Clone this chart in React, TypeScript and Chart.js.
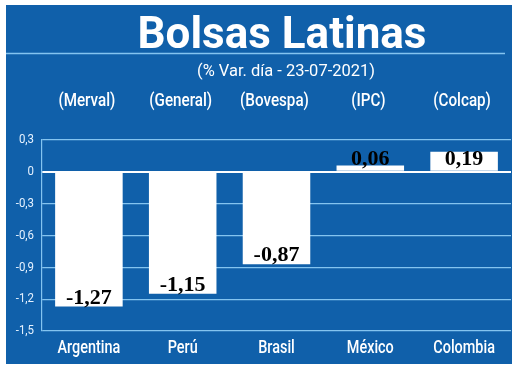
import React, { useEffect, useRef } from "react";
import { Chart, registerables } from "chart.js";

Chart.register(...registerables);

const countries = ["Argentina", "Perú", "Brasil", "México", "Colombia"];
const indices = ["(Merval)", "(General)", "(Bovespa)", "(IPC)", "(Colcap)"];
const values = [-1.27, -1.15, -0.87, 0.06, 0.19];
const yMin = -1.5;
const yMax = 0.3;
const yStep = 0.3;
const titleText = "Bolsas Latinas";
const subtitleText = "(% Var. día - 23-07-2021)";

const BLUE = "#1060aa";
const GRID = "#84c4f0";
const SANS = 'Roboto, "Open Sans", sans-serif';

const fmt = (v: number) => {
  const r = Math.round(v * 100) / 100;
  if (Math.abs(r) < 1e-9) return "0";
  return String(r).replace(".", ",");
};

function narrowText(
  ctx: CanvasRenderingContext2D,
  text: string,
  x: number,
  y: number,
  sx: number
) {
  ctx.save();
  ctx.translate(x, y);
  ctx.scale(sx, 1);
  ctx.fillText(text, 0, 0);
  ctx.restore();
}

const panelPlugin = {
  id: "panel",
  beforeDraw(chart: any) {
    const ctx = chart.ctx;
    ctx.save();
    ctx.fillStyle = "#ffffff";
    ctx.fillRect(0, 0, chart.width, chart.height);
    ctx.fillStyle = BLUE;
    ctx.fillRect(6, 5, 506, 359);
    ctx.strokeStyle = GRID;
    ctx.lineWidth = 1.5;
    ctx.beginPath();
    ctx.moveTo(6, 53.5);
    ctx.lineTo(505, 53.5);
    ctx.stroke();
    ctx.fillStyle = "#ffffff";
    ctx.textAlign = "center";
    ctx.textBaseline = "alphabetic";
    ctx.font = "bold 44px " + SANS;
    ctx.fillText(titleText, 282, 48);
    ctx.font = "17px " + SANS;
    narrowText(ctx, subtitleText, 286, 76, 0.97);
    ctx.restore();
  },
};

const axisLabelPlugin = {
  id: "axisLabels",
  afterDraw(chart: any) {
    const ctx = chart.ctx;
    const x = chart.scales.x;
    const x2 = chart.scales.x2;
    const y = chart.scales.y;
    ctx.save();
    ctx.fillStyle = "#ffffff";
    ctx.textAlign = "center";
    ctx.textBaseline = "middle";
    ctx.font = "500 19px " + SANS;
    countries.forEach((c, i) => {
      narrowText(ctx, c, x.getPixelForValue(i), x.top + 17, 0.76);
    });
    ctx.font = "500 19px " + SANS;
    indices.forEach((c, i) => {
      narrowText(ctx, c, x2.getPixelForValue(i) - 2, 101, 0.8);
    });
    ctx.textAlign = "right";
    ctx.fillStyle = "#e6f2ff";
    ctx.font = "13px " + SANS;
    y.ticks.forEach((t: any) => {
      narrowText(ctx, fmt(t.value), 34, y.getPixelForValue(t.value), 0.88);
    });
    ctx.restore();
  },
};

const valueLabelPlugin = {
  id: "valueLabels",
  afterDatasetsDraw(chart: any) {
    const ctx = chart.ctx;
    const meta = chart.getDatasetMeta(0);
    const zeroY = chart.scales.y.getPixelForValue(0);
    ctx.save();
    ctx.fillStyle = "#000000";
    ctx.textAlign = "center";
    ctx.textBaseline = "alphabetic";
    ctx.font = 'bold 22px "Liberation Serif", "DejaVu Serif", serif';
    meta.data.forEach((bar: any, i: number) => {
      const v = values[i];
      const yy = v < 0 ? bar.y - 3 : zeroY - 7;
      ctx.fillText(fmt(v), bar.x, yy);
    });
    ctx.restore();
  },
};

export default function App() {
  const ref = useRef<HTMLCanvasElement | null>(null);
  useEffect(() => {
    if (!ref.current) return;
    const chart = new Chart(ref.current, {
      type: "bar",
      data: {
        labels: countries,
        datasets: [
          {
            data: values,
            backgroundColor: "#ffffff",
            borderWidth: 0,
            barPercentage: 0.72,
            categoryPercentage: 1,
          },
        ],
      },
      options: {
        responsive: false,
        animation: false,
        layout: { padding: { left: 0, right: 9, top: 0, bottom: 0 } },
        plugins: {
          legend: { display: false },
          tooltip: { enabled: false },
          title: { display: false },
        },
        scales: {
          x: {
            position: "bottom",
            grid: { display: false },
            border: { display: false },
            ticks: { display: false },
            afterFit: (s: any) => {
              s.height = 41;
            },
          },
          x2: {
            type: "category",
            position: "top",
            labels: indices,
            offset: true,
            grid: { display: false },
            border: { display: false },
            ticks: { display: false },
            afterFit: (s: any) => {
              s.height = 140;
            },
          },
          y: {
            min: yMin,
            max: yMax,
            grid: {
              drawTicks: false,
              color: (c: any) =>
                c.tick && Math.abs(c.tick.value) < 1e-9 ? "#ffffff" : GRID,
              lineWidth: (c: any) =>
                c.tick && Math.abs(c.tick.value) < 1e-9 ? 2 : 1.2,
            },
            border: { display: true, color: GRID, width: 1.2 },
            ticks: { display: false, stepSize: yStep },
            afterFit: (s: any) => {
              s.width = 42;
            },
          },
        },
      },
      plugins: [panelPlugin, valueLabelPlugin, axisLabelPlugin],
    } as any);
    return () => chart.destroy();
  }, []);
  return (
    <div style={{ position: "fixed", left: 0, top: 0, width: 520, height: 372 }}>
      <canvas ref={ref} width={520} height={372} style={{ display: "block" }} />
    </div>
  );
}
